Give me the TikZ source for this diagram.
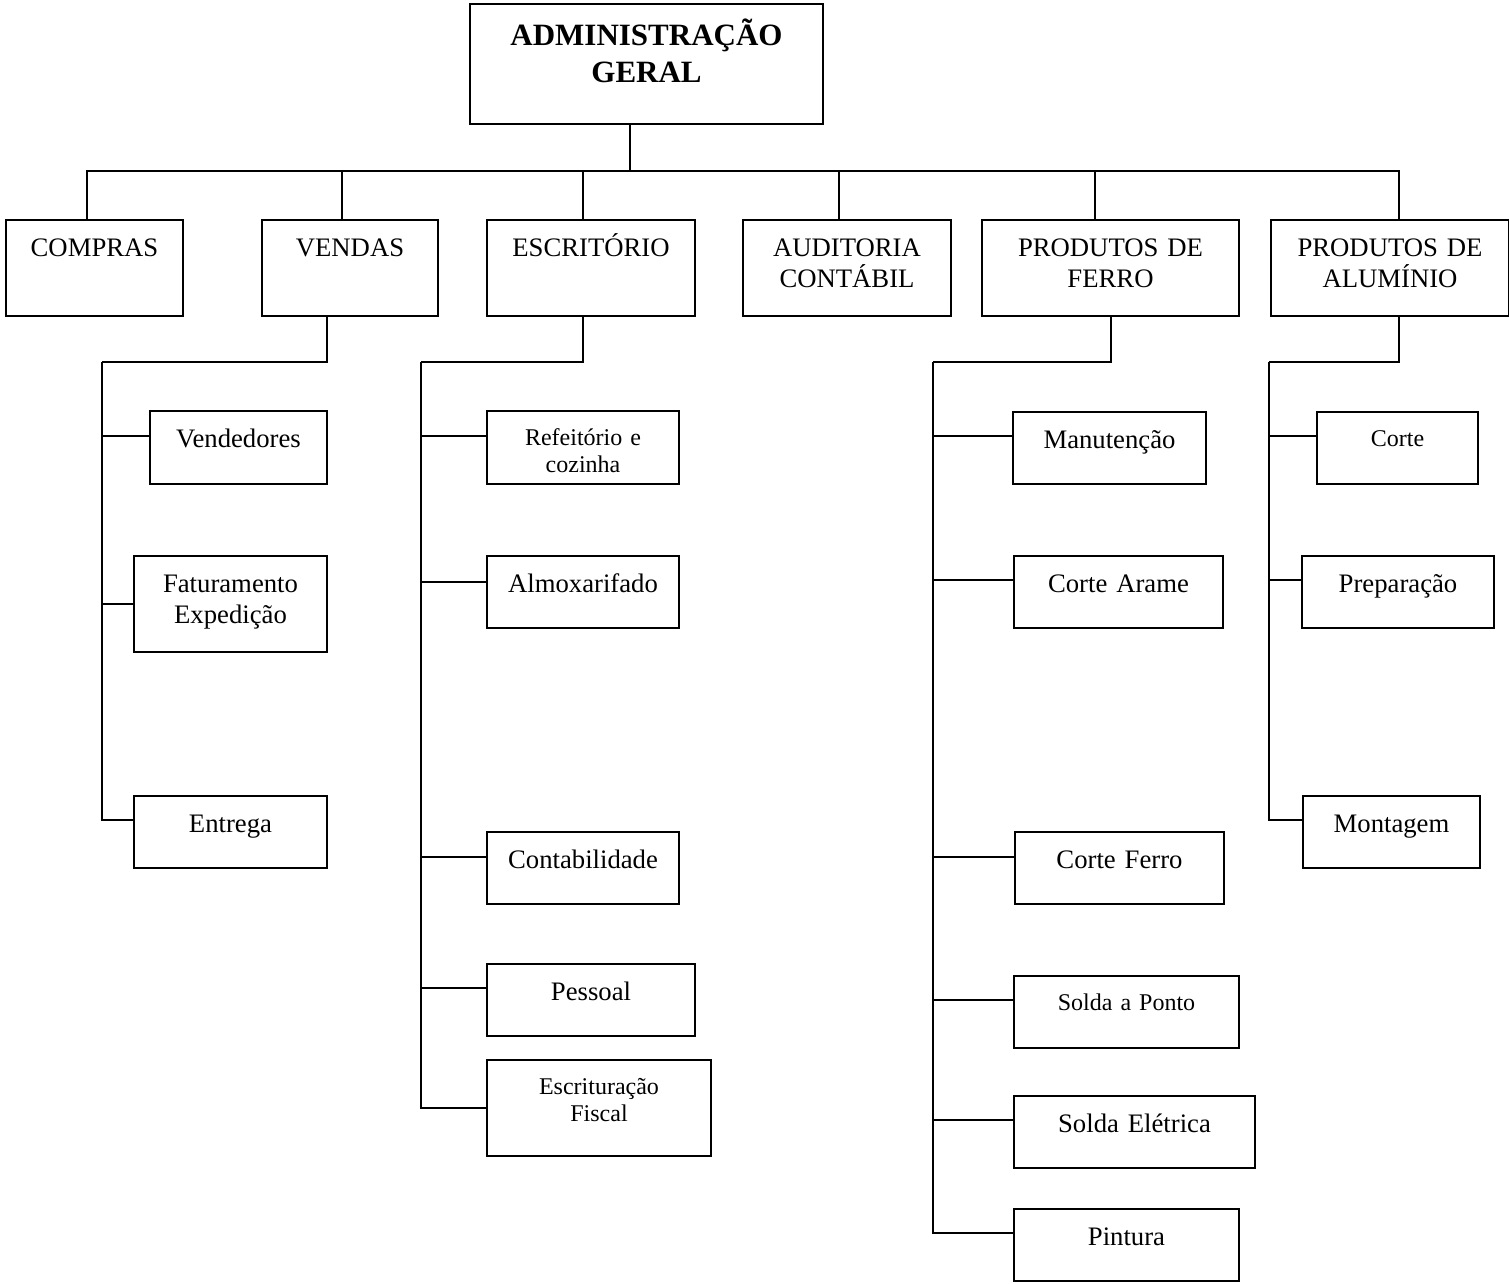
\documentclass[tikz,border=0pt]{standalone}
\usepackage{fontspec}
\setmainfont{Liberation Serif}
\newcommand{\txtnormal}{\fontsize{26.7}{30.5}\selectfont}
\newcommand{\txtsmall}{\fontsize{24}{27}\selectfont}
\newcommand{\txttitle}{\fontsize{31}{36.7}\selectfont\bfseries}

\tikzset{
  unit/.style={draw, line width=2pt, inner sep=0pt, anchor=north west,
    align=center, font=\txtnormal, text height=36.5pt},
  smalltxt/.style={font=\txtsmall, text height=34pt},
  link/.style={line width=2pt}
}

\begin{document}
\begin{tikzpicture}[x=1pt,y=-1pt]
\useasboundingbox (0,0) rectangle (1509,1284);

% topo
\node[unit, font=\txttitle, text width=353pt, text height=42pt, text depth=78pt] (admin) at (469,3) {ADMINISTRAÇÃO\\GERAL};

% primeiro nivel
\node[unit, text width=177pt, text depth=59.5pt] (compras) at (5,219) {COMPRAS};
\node[unit, text width=176pt, text depth=59.5pt] (vendas) at (261,219) {VENDAS};
\node[unit, text width=208pt, text depth=59.5pt] (escritorio) at (486,219) {ESCRITÓRIO};
\node[unit, text width=208pt, text depth=59.5pt] (auditoria) at (742,219) {AUDITORIA\\CONTÁBIL};
\node[unit, text width=257pt, text depth=59.5pt] (ferro) at (981,219) {PRODUTOS DE\\FERRO};
\node[unit, text width=238pt, text depth=59.5pt] (aluminio) at (1270,219) {PRODUTOS DE\\ALUMÍNIO};

% vendas
\node[unit, text width=177pt, text depth=36.5pt] (vendedores) at (149,410) {Vendedores};
\node[unit, text width=193pt, text depth=59.5pt] (faturamento) at (133,555) {Faturamento\\Expedição};
\node[unit, text width=193pt, text depth=35.5pt] (entrega) at (133,795) {Entrega};

% escritorio
\node[unit, smalltxt, text width=192pt, text depth=39pt] (refeitorio) at (486,410) {Refeitório e\\cozinha};
\node[unit, text width=192pt, text depth=35.5pt] (almox) at (486,555) {Almoxarifado};
\node[unit, text width=192pt, text depth=35.5pt] (contab) at (486,831) {Contabilidade};
\node[unit, text width=208pt, text depth=35.5pt] (pessoal) at (486,963) {Pessoal};
\node[unit, smalltxt, text width=224pt, text depth=62pt] (fiscal) at (486,1059) {Escrituração\\Fiscal};

% produtos de ferro
\node[unit, text width=193pt, text depth=35.5pt] (manut) at (1012,411) {Manutenção};
\node[unit, text width=209pt, text depth=35.5pt] (arame) at (1013,555) {Corte Arame};
\node[unit, text width=209pt, text depth=35.5pt] (corteferro) at (1014,831) {Corte Ferro};
\node[unit, smalltxt, text width=225pt, text depth=38pt] (ponto) at (1013,975) {Solda a Ponto};
\node[unit, text width=241pt, text depth=35.5pt] (eletrica) at (1013,1095) {Solda Elétrica};
\node[unit, text width=225pt, text depth=35.5pt] (pintura) at (1013,1208) {Pintura};

% produtos de aluminio
\node[unit, smalltxt, text width=161pt, text depth=38pt] (corte) at (1316,411) {Corte};
\node[unit, text width=192pt, text depth=35.5pt] (preparacao) at (1301,555) {Preparação};
\node[unit, text width=177pt, text depth=35.5pt] (montagem) at (1302,795) {Montagem};

% ligacoes
\coordinate (hub) at (630,171);
\draw[link] (admin.south -| hub) -- (hub);
\foreach \n/\dx in {compras/-7.5, vendas/-8, escritorio/-8, auditoria/-8, ferro/-15.5, aluminio/9}
  \draw[link] (hub) -| ([xshift=\dx pt]\n.north);

\coordinate (vtop) at (102,362);
\coordinate (etop) at (421,362);
\coordinate (ftop) at (933,362);
\coordinate (atop) at (1269,362);
\draw[link] ([xshift=-23pt]vendas.south) |- (vtop);
\draw[link] ([xshift=-8pt]escritorio.south) |- (etop);
\draw[link] (ferro.south) |- (ftop);
\draw[link] ([xshift=9pt]aluminio.south) |- (atop);

\foreach \n/\dy in {vendedores/11.5, faturamento/0, entrega/12}
  \draw[link] ([yshift=\dy pt]\n.west) -| (vtop);
\foreach \n/\dy in {refeitorio/11.5, almox/10, contab/11, pessoal/12, fiscal/0}
  \draw[link] ([yshift=\dy pt]\n.west) -| (etop);
\foreach \n/\dy in {manut/12, arame/12, corteferro/11, ponto/12, eletrica/12, pintura/12}
  \draw[link] ([yshift=\dy pt]\n.west) -| (ftop);
\foreach \n/\dy in {corte/12, preparacao/12, montagem/12.5}
  \draw[link] ([yshift=\dy pt]\n.west) -| (atop);
\end{tikzpicture}
\end{document}
